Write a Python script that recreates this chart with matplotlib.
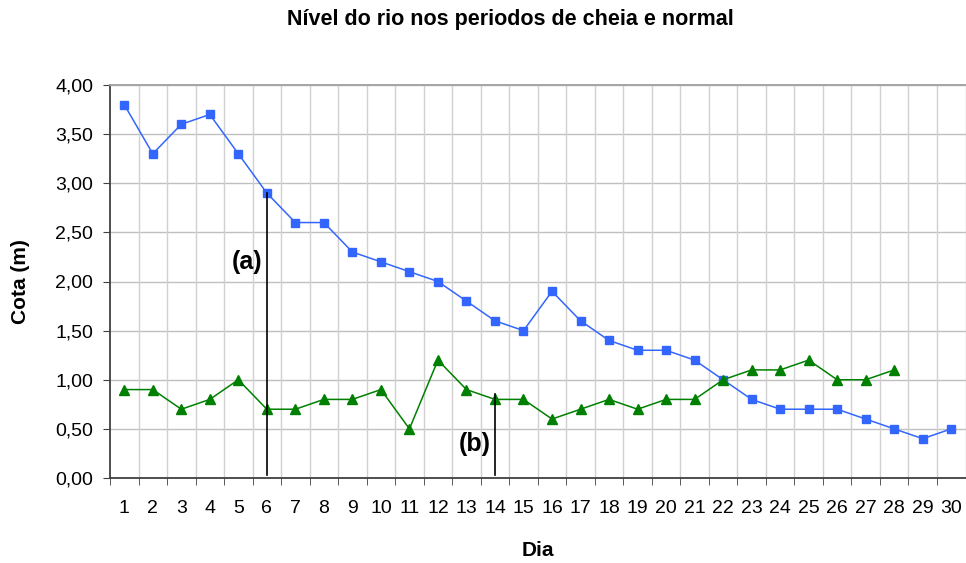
import matplotlib
matplotlib.use("Agg")
import matplotlib.pyplot as plt
from matplotlib.ticker import FixedLocator, FuncFormatter

plt.rcParams['font.family'] = ['Liberation Sans', 'DejaVu Sans']

dias = list(range(1, 31))
cheia = [3.8, 3.3, 3.6, 3.7, 3.3, 2.9, 2.6, 2.6, 2.3, 2.2, 2.1, 2.0, 1.8, 1.6, 1.5,
         1.9, 1.6, 1.4, 1.3, 1.3, 1.2, 1.0, 0.8, 0.7, 0.7, 0.7, 0.6, 0.5, 0.4, 0.5]
normal = [0.9, 0.9, 0.7, 0.8, 1.0, 0.7, 0.7, 0.8, 0.8, 0.9, 0.5, 1.2, 0.9, 0.8,
          0.8, 0.6, 0.7, 0.8, 0.7, 0.8, 0.8, 1.0, 1.1, 1.1, 1.2, 1.0, 1.0, 1.1]
y_ticks = [0.0, 0.5, 1.0, 1.5, 2.0, 2.5, 3.0, 3.5, 4.0]
anot_dias = [6, 14]
anot_topo = [2.9, 0.85]
anot_texto = ['(a)', '(b)']
anot_texto_y = [2.2, 0.35]

fig = plt.figure(figsize=(9.66, 5.63), dpi=100)
ax = fig.add_axes([110/966, 85/563, (965.5 - 110)/966, 393/563])

ax.set_xlim(0.5, 30.5)
ax.set_ylim(0, 4.0)

# grid
for v in y_ticks[1:]:
    ax.axhline(v, color='#c0c0c0', lw=1.0, zorder=0)
for b in range(1, 31):
    ax.axvline(b + 0.5, color='#d0d0d0', lw=1.0, zorder=0)

ax.plot(dias, cheia, color='#3366ff', lw=1.1, marker='s', ms=6,
        markerfacecolor='#3366ff', markeredgecolor='#3366ff', zorder=3, clip_on=False)
ax.plot(dias[:len(normal)], normal, color='#008000', lw=1.1, marker='^', ms=7,
        markerfacecolor='#008000', markeredgecolor='#008000', zorder=3, clip_on=False)

for d, top, t, ty in zip(anot_dias, anot_topo, anot_texto, anot_texto_y):
    ax.plot([d, d], [0.03, top], color='black', lw=1.2, zorder=4)
    ax.text(d - 0.15, ty, t, ha='right', va='center', fontsize=18, fontweight='bold')

ax.yaxis.set_major_locator(FixedLocator(y_ticks))
ax.yaxis.set_major_formatter(FuncFormatter(lambda v, p: f"{v:.2f}".replace('.', ',')))
ax.set_xticks(dias)
ax.set_xticklabels([str(d) for d in dias])
ax.set_xticks([b + 0.5 for b in range(0, 31)], minor=True)
ax.tick_params(axis='x', which='major', length=0, pad=16, labelsize=14)
ax.tick_params(axis='x', which='minor', length=5, color='#404040')
ax.tick_params(axis='y', which='major', length=5, color='#404040', labelsize=14, pad=7)

for s in ['left', 'bottom']:
    ax.spines[s].set_color('#404040')
    ax.spines[s].set_linewidth(1.3)
ax.spines['top'].set_color('#a0a0a0')
ax.spines['top'].set_linewidth(1.3)
ax.spines['right'].set_visible(False)

ax.set_xlabel('Dia', fontsize=15, fontweight='bold', labelpad=17)
ax.set_ylabel('Cota (m)', fontsize=15, fontweight='bold', labelpad=18)

fig.text(510/966, 1 - 20/563, 'Nível do rio nos periodos de cheia e normal',
         ha='center', va='center', fontsize=15.5, fontweight='bold')

fig.savefig('out.png', dpi=100)
